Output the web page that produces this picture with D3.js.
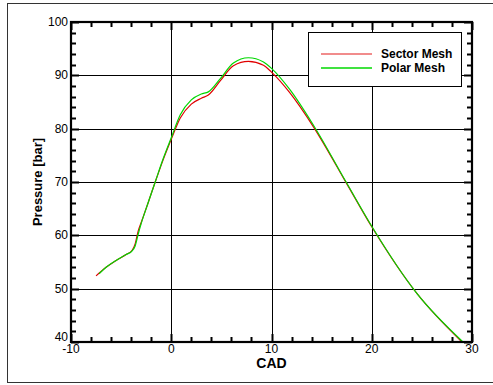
<!DOCTYPE html>
<html>
<head>
<meta charset="UTF-8">
<script src="https://d3js.org/d3.v7.min.js"></script>
<style>
  body { margin: 0; background: #fff; }
  text { font-family: "Liberation Sans", Arial, sans-serif; }
</style>
</head>
<body>
<svg width="493" height="385"></svg>
<script>
// data
const sectorX = [-7.5, -6.5, -5.5, -4.5, -3.9, -3.6, -3.3, -3.0, -2.4, -1.6, -0.8, 0, 0.9, 2, 3, 3.7, 4.9, 6.2, 7.7, 9.2, 10, 11.8, 14.2, 17.5, 20, 24.5, 29];
const sectorY = [52.4, 54.0, 55.3, 56.4, 57.2, 58.4, 60.8, 62.4, 65.6, 70.0, 74.2, 78.0, 82.0, 84.6, 85.7, 86.3, 89.0, 91.8, 92.6, 91.9, 90.6, 86.8, 80.3, 69.7, 61.6, 49.1, 40.0];
const polarX = [-7.2, -6.5, -5.5, -4.5, -3.9, -3.6, -3.3, -3.0, -2.4, -1.6, -0.8, 0, 0.9, 2, 3, 3.7, 4.9, 6.2, 7.7, 9.2, 10, 11.8, 14.2, 17.5, 20, 24.5, 29.1];
const polarY = [52.8, 54.0, 55.3, 56.4, 57.1, 58.0, 60.2, 62.2, 65.6, 70.0, 74.4, 78.3, 82.6, 85.4, 86.5, 86.9, 89.4, 92.3, 93.3, 92.5, 91.3, 87.4, 80.6, 69.8, 61.7, 49.1, 40.0];
const xTicks = [-10, 0, 10, 20, 30];
const yTicks = [40, 50, 60, 70, 80, 90, 100];
const xMinor = [-8, -6, -4, -2, 2, 4, 6, 8, 12, 14, 16, 18, 22, 24, 26, 28];
const yMinor = [42, 44, 46, 48, 52, 54, 56, 58, 62, 64, 66, 68, 72, 74, 76, 78, 82, 84, 86, 88, 92, 94, 96, 98];
const seriesNames = ["Sector Mesh", "Polar Mesh"];
const seriesColors = ["#e00000", "#00d800"];

const svg = d3.select("svg");
const L = 71, R = 472, T = 22, B = 342;

// outer frame
svg.append("rect").attr("x", 7.5).attr("y", 3.5).attr("width", 500).attr("height", 379)
  .attr("fill", "none").attr("stroke", "#333").attr("stroke-width", 1);

const x = d3.scaleLinear().domain([-10, 30]).range([L, R]);
const y = d3.scaleLinear().domain([40, 100]).range([B, T]);

// grid
svg.append("g").selectAll("line").data(xTicks.slice(1, -1)).join("line")
  .attr("x1", d => Math.round(x(d)) + 0.5).attr("x2", d => Math.round(x(d)) + 0.5)
  .attr("y1", T).attr("y2", B).attr("stroke", "#000").attr("stroke-width", 1);
svg.append("g").selectAll("line").data(yTicks.slice(1, -1)).join("line")
  .attr("y1", d => Math.round(y(d)) + 0.5).attr("y2", d => Math.round(y(d)) + 0.5)
  .attr("x1", L).attr("x2", R).attr("stroke", "#000").attr("stroke-width", 1);

// inward ticks on all four sides, drawn as one path
const tickPath = d3.path();
xTicks.concat(xMinor).forEach(v => {
  const len = xTicks.includes(v) ? 8 : 5, px = Math.round(x(v)) + 0.5;
  tickPath.moveTo(px, B); tickPath.lineTo(px, B - len);
  tickPath.moveTo(px, T); tickPath.lineTo(px, T + len);
});
yTicks.concat(yMinor).forEach(v => {
  const len = yTicks.includes(v) ? 8 : 5, py = Math.round(y(v)) + 0.5;
  tickPath.moveTo(L, py); tickPath.lineTo(L + len, py);
  tickPath.moveTo(R, py); tickPath.lineTo(R - len, py);
});
svg.append("path").attr("d", tickPath.toString()).attr("fill", "none")
  .attr("stroke", "#000").attr("stroke-width", 2);

// curves
const line = d3.line().x(d => x(d[0])).y(d => y(d[1])).curve(d3.curveMonotoneX);
const series = [d3.zip(sectorX, sectorY), d3.zip(polarX, polarY)];
series.forEach((s, i) => {
  svg.append("path").datum(s).attr("d", line).attr("fill", "none")
    .attr("stroke", seriesColors[i]).attr("stroke-width", 1.2);
});

// axis frame
svg.append("rect").attr("x", L).attr("y", T).attr("width", R - L).attr("height", B - T)
  .attr("fill", "none").attr("stroke", "#000").attr("stroke-width", 2.2);

// tick labels
svg.selectAll(".xl").data(xTicks).join("text")
  .attr("x", d => x(d)).attr("y", B + 11).attr("text-anchor", "middle")
  .attr("font-size", 12).text(d => d);
svg.selectAll(".yl").data(yTicks).join("text")
  .attr("x", L - 3).attr("y", d => (d === 40 ? y(d) - 1 : y(d) + 4)).attr("text-anchor", "end")
  .attr("font-size", 12).text(d => d);

// axis titles
svg.append("text").attr("x", (L + R) / 2).attr("y", 368).attr("text-anchor", "middle")
  .attr("font-size", 14).attr("font-weight", "bold").text("CAD");
svg.append("text").attr("transform", `translate(42,${(T + B) / 2}) rotate(-90)`)
  .attr("text-anchor", "middle").attr("font-size", 13).attr("font-weight", "bold")
  .text("Pressure [bar]");

// legend
const lg = svg.append("g");
lg.append("rect").attr("x", 308.5).attr("y", 32.5).attr("width", 153).attr("height", 54)
  .attr("fill", "#fff").attr("stroke", "#000").attr("stroke-width", 1);
seriesNames.forEach((n, i) => {
  const ly = 54 + i * 14;
  lg.append("line").attr("x1", 321).attr("x2", 372).attr("y1", ly).attr("y2", ly)
    .attr("stroke", seriesColors[i]).attr("stroke-width", 1.5).attr("opacity", i === 0 ? 0.6 : 1);
  lg.append("text").attr("x", 381).attr("y", ly + 4).attr("font-size", 12)
    .attr("font-weight", "bold").text(n);
});
</script>
</body>
</html>
